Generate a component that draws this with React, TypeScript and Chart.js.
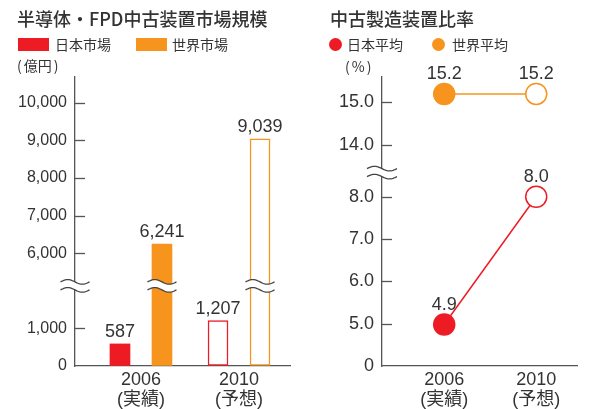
import React, { useEffect, useRef } from 'react';
import { Chart, registerables } from 'chart.js';

Chart.register(...registerables);

// ---- data ----
const categories = ['2006', '2010'];
const categoryNotes = ['(実績)', '(予想)'];
const japanMarket = [587, 1207];
const worldMarket = [6241, 9039];
const marketTicks = [0, 1000, 6000, 7000, 8000, 9000, 10000];
const japanRatio = [4.9, 8.0];
const worldRatio = [15.2, 15.2];
const ratioTicks = [0, 5, 6, 7, 8, 14, 15];

// ---- style ----
const RED = '#ed1c24';
const ORANGE = '#f7941d';
const TEXT = '#333333';
const AXIS = '#555555';
const NUM_FONT = "'Liberation Sans', 'Noto Sans CJK JP', sans-serif";
const JP_FONT = "'Noto Sans CJK JP', sans-serif";

// broken-axis transforms
const marketToAxis = (v: number) => (v > 2000 ? v - 3000 : v);
const axisToMarket = (d: number) => (d > 2000 ? d + 3000 : d);
const MARKET_BREAK = 2130;
const ratioToAxis = (v: number) => (v <= 5 ? v / 5 : v < 11 ? v - 4 : v - 8.77);
const axisToRatio = (d: number) => (d <= 1 ? d * 5 : d < 4.5 ? d + 4 : d + 8.77);
const RATIO_BREAK = 4.57;

function drawBreak(ctx: CanvasRenderingContext2D, cx: number, cy: number, half: number) {
  const A = 2.3;
  const gap = 8;
  const N = 30;
  const pt = (t: number, y0: number) => [cx - half + 2 * half * t, y0 - A * Math.sin(2 * Math.PI * t)];
  ctx.save();
  ctx.beginPath();
  for (let i = 0; i <= N; i++) {
    const [x, y] = pt(i / N, cy - gap / 2);
    if (i === 0) ctx.moveTo(x, y);
    else ctx.lineTo(x, y);
  }
  for (let i = N; i >= 0; i--) {
    const [x, y] = pt(i / N, cy + gap / 2);
    ctx.lineTo(x, y);
  }
  ctx.closePath();
  ctx.fillStyle = '#ffffff';
  ctx.fill();
  ctx.strokeStyle = '#444444';
  ctx.lineWidth = 1.3;
  [cy - gap / 2, cy + gap / 2].forEach((y0) => {
    ctx.beginPath();
    for (let i = 0; i <= N; i++) {
      const [x, y] = pt(i / N, y0);
      if (i === 0) ctx.moveTo(x, y);
      else ctx.lineTo(x, y);
    }
    ctx.stroke();
  });
  ctx.restore();
}

function makeDecor(breakAt: number, axisHalf: number, format: (v: number) => string, labelGap: number) {
  return {
    id: 'decor',
    afterDatasetsDraw(chart: any) {
      const { ctx, chartArea } = chart;
      const y = chart.scales.y;
      ctx.save();
      ctx.strokeStyle = AXIS;
      ctx.lineWidth = 1.3;
      y.ticks.forEach((t: any) => {
        if (t.value === 0) return;
        const py = Math.round(y.getPixelForValue(t.value)) + 0.5;
        ctx.beginPath();
        ctx.moveTo(chartArea.left, py);
        ctx.lineTo(chartArea.left + 10, py);
        ctx.stroke();
      });
      const by = y.getPixelForValue(breakAt);
      drawBreak(ctx, chartArea.left, by, axisHalf);
      chart.data.datasets.forEach((ds: any, di: number) => {
        const meta = chart.getDatasetMeta(di);
        if (meta.type !== 'bar') return;
        meta.data.forEach((el: any) => {
          if (el.y < by) drawBreak(ctx, el.x, by, el.width / 2 + 4.5);
        });
      });
      ctx.fillStyle = TEXT;
      ctx.font = `18px ${NUM_FONT}`;
      ctx.textAlign = 'center';
      ctx.textBaseline = 'alphabetic';
      chart.data.datasets.forEach((ds: any, di: number) => {
        const meta = chart.getDatasetMeta(di);
        meta.data.forEach((el: any, i: number) => {
          ctx.fillText(format(ds.values[i]), el.x, el.y - labelGap);
        });
      });
      ctx.restore();
    },
  };
}

const xTicks = {
  color: TEXT,
  font: { family: NUM_FONT, size: 18, lineHeight: 20 / 18 },
  padding: 4,
  maxRotation: 0,
  autoSkip: false,
  callback: (v: any) => {
    const i = Math.round(Number(v));
    return [categories[i], categoryNotes[i]];
  },
};

export default function App() {
  const leftRef = useRef<HTMLCanvasElement>(null);
  const rightRef = useRef<HTMLCanvasElement>(null);

  useEffect(() => {
    const left = new Chart(leftRef.current as HTMLCanvasElement, {
      type: 'bar',
      data: {
        datasets: [
          {
            label: '日本市場',
            values: japanMarket,
            data: japanMarket.map((v, i) => ({ x: i, y: marketToAxis(v) })),
            backgroundColor: [RED, '#ffffff'],
            borderColor: RED,
            borderWidth: [0, 1.5],
            borderSkipped: false,
            barThickness: 42,
            maxBarThickness: 20,
          } as any,
          {
            label: '世界市場',
            values: worldMarket,
            data: worldMarket.map((v, i) => ({ x: i, y: marketToAxis(v) })),
            backgroundColor: [ORANGE, '#ffffff'],
            borderColor: ORANGE,
            borderWidth: [0, 1.5],
            borderSkipped: false,
            barThickness: 42,
            maxBarThickness: 20,
          } as any,
        ],
      },
      options: {
        animation: false,
        responsive: false,
        events: [],
        layout: { padding: { top: 77, right: 10, left: 0, bottom: 0 } },
        plugins: { legend: { display: false }, tooltip: { enabled: false } },
        scales: {
          x: {
            type: 'linear',
            offset: false,
            min: -0.673,
            max: 1.52,
            grid: { display: true, drawOnChartArea: false, drawTicks: false },
            border: { display: true, color: AXIS, width: 1.3 },
            ticks: xTicks as any,
            afterBuildTicks: (s: any) => {
              s.ticks = categories.map((_, i) => ({ value: i }));
            },
            afterFit: (s: any) => {
              s.height = 409 - 366;
            },
          },
          y: {
            type: 'linear',
            min: 0,
            max: 7686,
            grid: { display: true, drawOnChartArea: false, drawTicks: false },
            border: { display: true, color: AXIS, width: 1.3 },
            ticks: {
              color: TEXT,
              padding: 8,
              autoSkip: false,
              font: { family: NUM_FONT, size: 16 },
              callback: (v: any) => axisToMarket(Number(v)).toLocaleString('en-US'),
            },
            afterBuildTicks: (s: any) => {
              s.ticks = marketTicks.map((v) => ({ value: marketToAxis(v) }));
            },
            afterFit: (s: any) => {
              s.width = 75;
            },
          },
        },
      } as any,
      plugins: [makeDecor(MARKET_BREAK, 14.5, (v) => v.toLocaleString('en-US'), 7)],
    });

    const right = new Chart(rightRef.current as HTMLCanvasElement, {
      type: 'line',
      data: {
        datasets: [
          {
            label: '世界平均',
            values: worldRatio,
            data: worldRatio.map((v, i) => ({ x: i, y: ratioToAxis(v) })),
            borderColor: ORANGE,
            borderWidth: 1.5,
            pointRadius: 10.5,
            pointBorderWidth: 1.5,
            pointBackgroundColor: [ORANGE, '#ffffff'],
            pointBorderColor: ORANGE,
            clip: false,
          } as any,
          {
            label: '日本平均',
            values: japanRatio,
            data: japanRatio.map((v, i) => ({ x: i, y: ratioToAxis(v) })),
            borderColor: RED,
            borderWidth: 1.5,
            pointRadius: 10.5,
            pointBorderWidth: 1.5,
            pointBackgroundColor: [RED, '#ffffff'],
            pointBorderColor: RED,
            clip: false,
          } as any,
        ],
      },
      options: {
        animation: false,
        responsive: false,
        events: [],
        layout: { padding: { top: 77, right: 0, left: 0, bottom: 0 } },
        plugins: { legend: { display: false }, tooltip: { enabled: false } },
        scales: {
          x: {
            type: 'linear',
            offset: false,
            min: -0.676,
            max: 1.443,
            grid: { display: true, drawOnChartArea: false, drawTicks: false },
            border: { display: true, color: AXIS, width: 1.3 },
            ticks: xTicks as any,
            afterBuildTicks: (s: any) => {
              s.ticks = categories.map((_, i) => ({ value: i }));
            },
            afterFit: (s: any) => {
              s.height = 409 - 366;
            },
          },
          y: {
            type: 'linear',
            min: 0,
            max: 6.83,
            grid: { display: true, drawOnChartArea: false, drawTicks: false },
            border: { display: true, color: AXIS, width: 1.3 },
            ticks: {
              color: TEXT,
              padding: 8,
              autoSkip: false,
              font: { family: NUM_FONT, size: 18 },
              callback: (v: any) => {
                const r = axisToRatio(Number(v));
                return Math.abs(r) < 1e-9 ? '0' : r.toFixed(1);
              },
            },
            afterBuildTicks: (s: any) => {
              s.ticks = ratioTicks.map((v) => ({ value: ratioToAxis(v) }));
            },
            afterFit: (s: any) => {
              s.width = 82;
            },
          },
        },
      } as any,
      plugins: [makeDecor(RATIO_BREAK, 15, (v) => v.toFixed(1), 15)],
    });

    return () => {
      left.destroy();
      right.destroy();
    };
  }, []);

  const txt = (extra: React.CSSProperties): React.CSSProperties => ({
    position: 'absolute',
    whiteSpace: 'nowrap',
    color: TEXT,
    fontFamily: JP_FONT,
    ...extra,
  });
  const paren = (ch: string, side: 'l' | 'r') => (
    <span style={side === 'l' ? { marginRight: 2 } : { marginLeft: 2 }}>{ch}</span>
  );

  return (
    <div style={{ position: 'fixed', left: 0, top: 0, width: 589, height: 409, background: '#fff', overflow: 'hidden' }}>
      <canvas ref={leftRef} width={300} height={409} style={{ position: 'absolute', left: 0, top: 0, width: 300, height: 409 }} />
      <canvas ref={rightRef} width={289} height={409} style={{ position: 'absolute', left: 300, top: 0, width: 289, height: 409 }} />

      <div style={txt({ left: 17, top: 8, fontSize: 18, lineHeight: '20px', fontWeight: 500 })}>半導体・FPD中古装置市場規模</div>
      <div style={{ position: 'absolute', left: 18, top: 38, width: 31, height: 13, background: RED }} />
      <div style={txt({ left: 55, top: 36, fontSize: 14, lineHeight: '16px' })}>日本市場</div>
      <div style={{ position: 'absolute', left: 136, top: 38, width: 31, height: 13, background: ORANGE }} />
      <div style={txt({ left: 172, top: 36, fontSize: 14, lineHeight: '16px' })}>世界市場</div>
      <div style={txt({ left: 17, top: 57, fontSize: 14, lineHeight: '16px' })}>
        {paren('(', 'l')}億円{paren(')', 'r')}
      </div>

      <div style={txt({ left: 330, top: 8, fontSize: 18, lineHeight: '20px', fontWeight: 500 })}>中古製造装置比率</div>
      <div style={{ position: 'absolute', left: 328.5, top: 37.5, width: 13, height: 13, borderRadius: '50%', background: RED }} />
      <div style={txt({ left: 347, top: 36, fontSize: 14, lineHeight: '16px' })}>日本平均</div>
      <div style={{ position: 'absolute', left: 432, top: 37.5, width: 13, height: 13, borderRadius: '50%', background: ORANGE }} />
      <div style={txt({ left: 452, top: 36, fontSize: 14, lineHeight: '16px' })}>世界平均</div>
      <div style={txt({ left: 345, top: 58, fontSize: 14, lineHeight: '16px' })}>
        {paren('(', 'l')}%{paren(')', 'r')}
      </div>
    </div>
  );
}
